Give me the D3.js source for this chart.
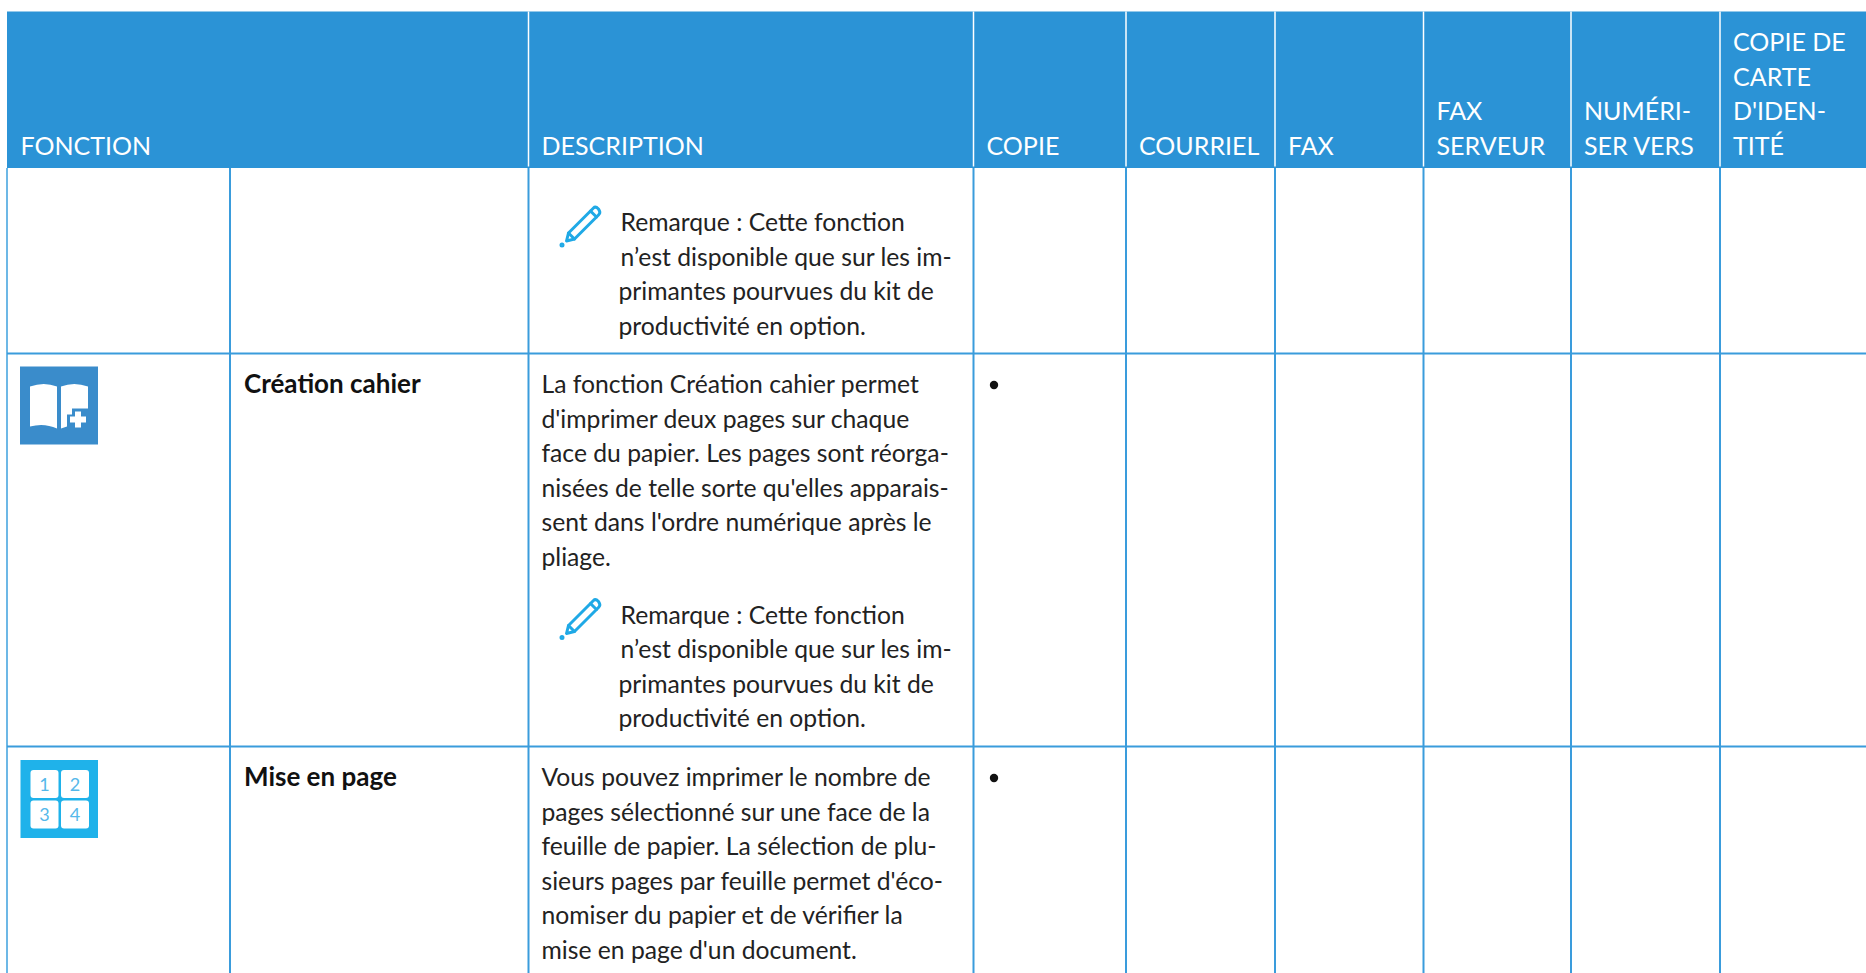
<!DOCTYPE html>
<html lang="fr">
<head>
<meta charset="utf-8">
<title>Fonctions</title>
<script src="https://cdn.jsdelivr.net/npm/d3@7"></script>
<style>
  html, body { margin: 0; padding: 0; background: #fff; overflow: hidden; }
  text { font-family: Lato, "Noto Sans", sans-serif; }
</style>
</head>
<body>
<div id="table"></div>
<script>
const width = 1866;
const height = 973;

const columns = ["icon", "name", "description", "copie", "courriel", "fax", "faxServeur", "numeriser", "carte"];
const headerColumns = ["icon", "description", "copie", "courriel", "fax", "faxServeur", "numeriser", "carte"];
const headerLabels = [
  ["FONCTION"],
  ["DESCRIPTION"],
  ["COPIE"],
  ["COURRIEL"],
  ["FAX"],
  ["FAX", "SERVEUR"],
  ["NUMÉRI-", "SER VERS"],
  ["COPIE DE", "CARTE", "D'IDEN-", "TITÉ"]
];

const rows = ["suite", "cahier", "miseEnPage"];
const rowNames = ["", "Création cahier", "Mise en page"];
const rowDescriptions = [
  [],
  [
    "La fonction Création cahier permet",
    "d'imprimer deux pages sur chaque",
    "face du papier. Les pages sont réorga-",
    "nisées de telle sorte qu'elles apparais-",
    "sent dans l'ordre numérique après le",
    "pliage."
  ],
  [
    "Vous pouvez imprimer le nombre de",
    "pages sélectionné sur une face de la",
    "feuille de papier. La sélection de plu-",
    "sieurs pages par feuille permet d'éco-",
    "nomiser du papier et de vérifier la",
    "mise en page d'un document."
  ]
];
const noteLines = [
  "Remarque : Cette fonction",
  "n’est disponible que sur les im-",
  "primantes pourvues du kit de",
  "productivité en option."
];
const rowHasNote = [true, true, false];
const rowCopyMark = [false, true, true];

const x = d3.scaleOrdinal()
  .domain(columns.concat("end"))
  .range([7, 230, 528.5, 973.5, 1126, 1275, 1423.5, 1571, 1720, 1866]);

const y = d3.scaleOrdinal()
  .domain(rows.concat("end"))
  .range([168, 353.5, 746.5, 973]);

const headerTop = 11.5;
const headerBottom = y("suite");
const lineHeight = 34.5;
const blue = "#2b93d6";
const rule = "#3a9cdc";

const svg = d3.select("#table").append("svg")
  .attr("width", width)
  .attr("height", height)
  .style("display", "block");

// header band
svg.append("rect")
  .attr("x", x("icon"))
  .attr("y", headerTop)
  .attr("width", width - x("icon"))
  .attr("height", headerBottom - headerTop)
  .attr("fill", blue);

// white separators inside the header
svg.selectAll("line.head")
  .data(headerColumns.slice(1))
  .enter().append("line")
  .attr("class", "head")
  .attr("x1", d => x(d))
  .attr("x2", d => x(d))
  .attr("y1", headerTop)
  .attr("y2", headerBottom - 1.5)
  .attr("stroke", "#fff")
  .attr("stroke-width", 1.5);

headerColumns.forEach((c, i) => {
  const lines = headerLabels[i];
  svg.selectAll(null)
    .data(lines)
    .enter().append("text")
    .attr("x", x(c) + (i === 0 ? 13.5 : 13))
    .attr("y", (d, j) => 154.5 - (lines.length - 1 - j) * lineHeight)
    .attr("fill", "#fff")
    .attr("font-size", 25)
    .text(d => d);
});

// grid
svg.selectAll("line.col")
  .data(columns)
  .enter().append("line")
  .attr("class", "col")
  .attr("x1", d => x(d))
  .attr("x2", d => x(d))
  .attr("y1", headerBottom)
  .attr("y2", height)
  .attr("stroke", d => d === "icon" ? "#6db8e6" : rule)
  .attr("stroke-width", 2);

svg.selectAll("line.row")
  .data(rows.slice(1))
  .enter().append("line")
  .attr("class", "row")
  .attr("x1", x("icon"))
  .attr("x2", width)
  .attr("y1", d => y(d))
  .attr("y2", d => y(d))
  .attr("stroke", rule)
  .attr("stroke-width", 2);

const bodyText = (sel) => sel
  .attr("fill", "#222")
  .attr("font-size", 24.7);

const drawPencil = (top) => {
  const g = svg.append("g")
    .attr("transform", `translate(${x("description") + 32},${top})`)
    .attr("fill", "none")
    .attr("stroke", "#1fa9e6")
    .attr("stroke-width", 3)
    .attr("stroke-linejoin", "round")
    .attr("stroke-linecap", "round");
  g.append("path").attr("d", "M8 28 L30 6 L36 12 L14 34 L6 36 Z");
  g.append("path").attr("d", "M30 6 L33 3 Q35 1 38 4 L39 6 Q40 8 38 10 L36 12");
  g.append("path").attr("d", "M8 28 L14 34");
  g.append("circle").attr("cx", 1.5).attr("cy", 40).attr("r", 1).attr("fill", "#1fa9e6");
};

const drawNote = (baseline) => {
  drawPencil(baseline - 26);
  svg.selectAll(null)
    .data(noteLines)
    .enter().append("text")
    .attr("x", (d, i) => x("description") + (i < 2 ? 92 : 90))
    .attr("y", (d, i) => baseline + i * lineHeight)
    .call(bodyText)
    .text(d => d);
};

rows.forEach((r, i) => {
  const first = y(r) + 39.5;
  if (rowNames[i]) {
    svg.append("text")
      .attr("x", x("name") + 14)
      .attr("y", first)
      .attr("fill", "#111")
      .attr("font-size", 26)
      .attr("font-weight", 700)
      .text(rowNames[i]);
  }
  const desc = rowDescriptions[i];
  svg.selectAll(null)
    .data(desc)
    .enter().append("text")
    .attr("x", x("description") + 13)
    .attr("y", (d, j) => first + j * lineHeight)
    .call(bodyText)
    .text(d => d);
  if (rowHasNote[i]) {
    drawNote(desc.length ? first + (desc.length - 1) * lineHeight + 58 : y(r) + 63);
  }
  if (rowCopyMark[i]) {
    svg.append("circle")
      .attr("cx", x("copie") + 20.5)
      .attr("cy", y(r) + 31.5)
      .attr("r", 4.2)
      .attr("fill", "#111");
  }
});

// book icon
const book = svg.append("g").attr("transform", `translate(20,${y("cahier") + 13})`);
book.append("rect").attr("width", 78).attr("height", 78).attr("fill", "#3a8ccb");
book.append("path")
  .attr("fill", "#fff")
  .attr("d", "M10 20 Q24 15 37 20 L37 62 Q24 56 10 60 Z M41 20 Q54 15 68 20 L68 42 L52 42 L52 48 L47 48 L47 60 L41 62 Z");
book.append("path")
  .attr("fill", "#fff")
  .attr("d", "M55 45 H61 V50 H66 V56 H61 V61 H55 V56 H50 V50 H55 Z");

// 1 2 3 4 icon
const pageNumbers = ["1", "2", "3", "4"];
const grid = svg.append("g").attr("transform", `translate(20.5,${y("miseEnPage") + 13.5})`);
grid.append("rect").attr("width", 77.5).attr("height", 78).attr("fill", "#1fb2ea");
grid.selectAll("g")
  .data(pageNumbers)
  .enter().append("g")
  .attr("transform", (d, i) => `translate(${10 + (i % 2) * 30.5},${10 + Math.floor(i / 2) * 30.5})`)
  .call(g => g.append("rect")
    .attr("width", 28).attr("height", 28).attr("rx", 3).attr("fill", "#fff"))
  .call(g => g.append("text")
    .attr("x", 14).attr("y", 20.5)
    .attr("text-anchor", "middle")
    .attr("font-size", 18)
    .attr("fill", "#55b8ea")
    .text(d => d));
</script>
</body>
</html>
